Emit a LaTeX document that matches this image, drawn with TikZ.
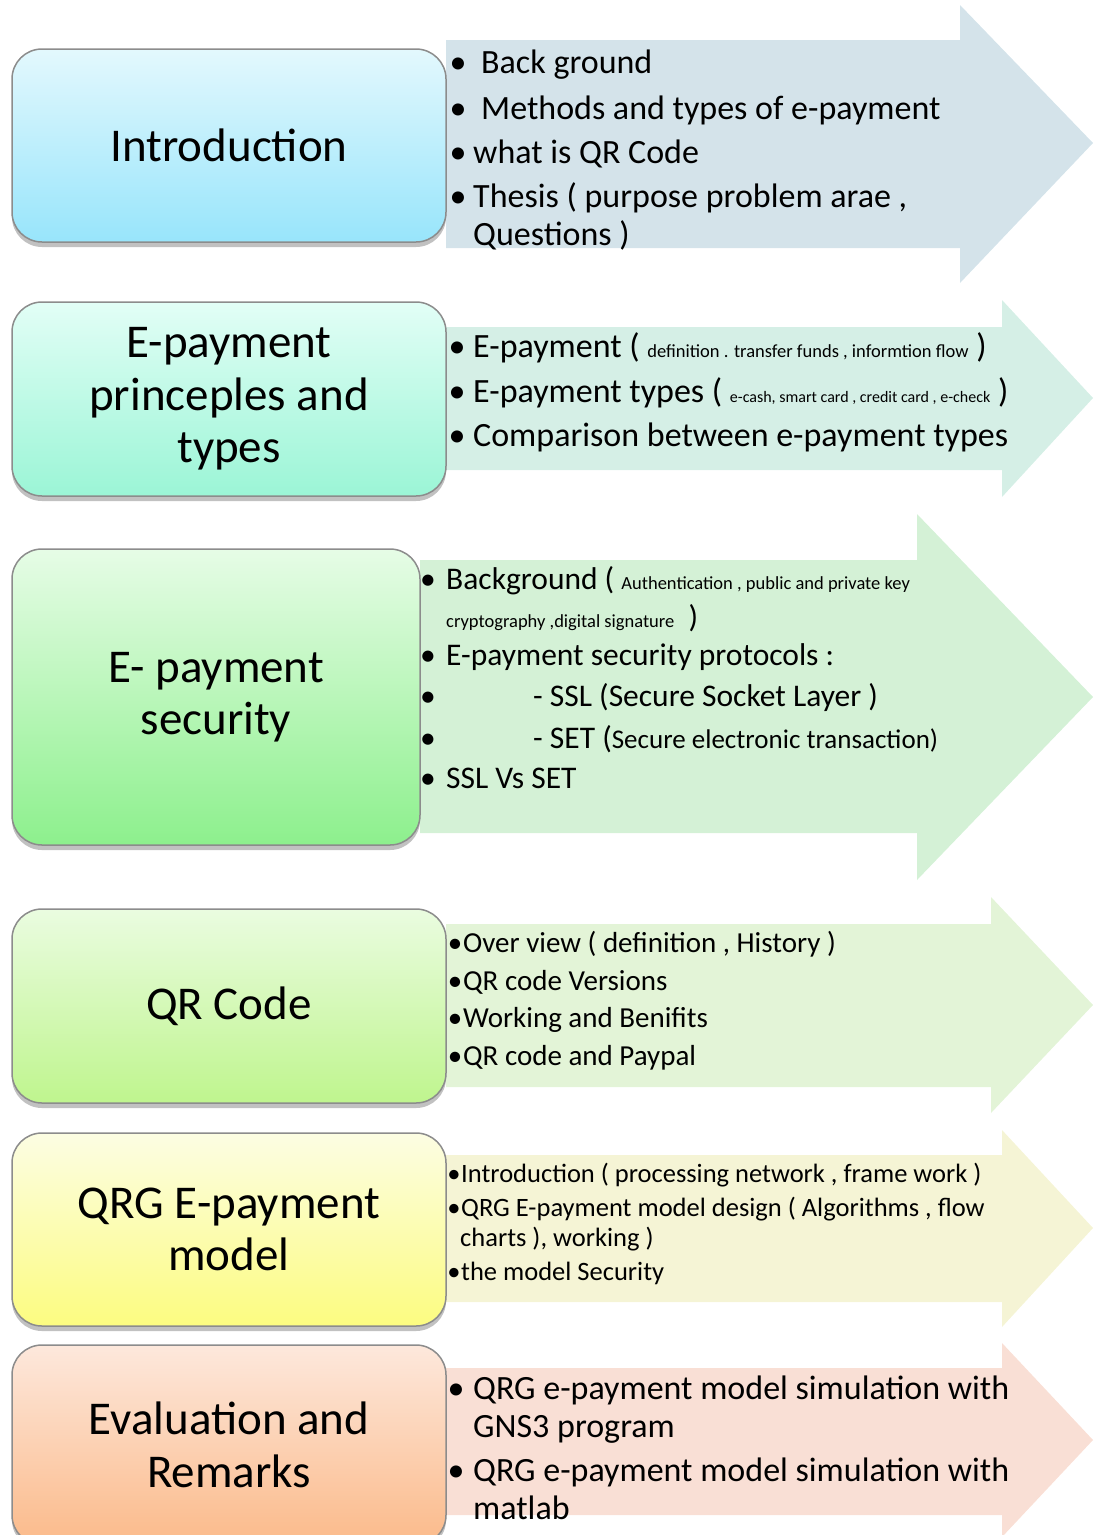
\documentclass[tikz,border=0pt]{standalone}
\usepackage{fontspec}
\setmainfont{Carlito}
\usetikzlibrary{shadows}

\definecolor{introtop}{HTML}{E3F8FD}\definecolor{introbot}{HTML}{98E5FB}\definecolor{introarr}{HTML}{D4E3EA}
\definecolor{paytop}{HTML}{E2FEF6}\definecolor{paybot}{HTML}{9BF5D6}\definecolor{payarr}{HTML}{D5EFE6}
\definecolor{sectop}{HTML}{E6FCE6}\definecolor{secbot}{HTML}{8DF08D}\definecolor{secarr}{HTML}{D4F1D6}
\definecolor{qrtop}{HTML}{EAFCE0}\definecolor{qrbot}{HTML}{BFF58E}\definecolor{qrarr}{HTML}{E3F4D7}
\definecolor{qrgtop}{HTML}{FCFDE3}\definecolor{qrgbot}{HTML}{FCFC80}\definecolor{qrgarr}{HTML}{F5F4D5}
\definecolor{evaltop}{HTML}{FDE8DC}\definecolor{evalbot}{HTML}{FBBA8A}\definecolor{evalarr}{HTML}{F9DFD5}

\newcommand\fsz[1]{\fontsize{#1}{1.18\dimexpr#1pt\relax}\selectfont}

\tikzset{
  topic/.style={draw=black!45, line width=1.5pt, rounded corners=30pt, align=center,
    inner sep=0pt, minimum width=434pt, minimum height=194pt,
    font=\fontsize{47}{52.5}\selectfont,
    drop shadow={shadow xshift=0pt, shadow yshift=-5pt, opacity=0.35, fill=black!70}},
  item/.style={anchor=mid west, inner sep=0pt, yshift=-8pt},
  dot/.style={anchor=mid, inner sep=0pt, yshift=-8pt},
}

\begin{document}
\begin{tikzpicture}[x=1pt, y=-1pt]
  \clip (0,0) rectangle (1093,1535);

  % arrows
  \fill[introarr] (446,40) -- (960,40) -- (960,5) -- (1093,143) -- (960,283) -- (960,248) -- (446,248) -- cycle;
  \fill[payarr] (446,327) -- (1002,327) -- (1002,300) -- (1093,398) -- (1002,497) -- (1002,470) -- (446,470) -- cycle;
  \fill[secarr] (420,560) -- (917,560) -- (917,514) -- (1093,697) -- (917,880) -- (917,833) -- (420,833) -- cycle;
  \fill[qrarr] (446,924) -- (991,924) -- (991,897) -- (1093,1005) -- (991,1113) -- (991,1087) -- (446,1087) -- cycle;
  \fill[qrgarr] (446,1155) -- (1002,1155) -- (1002,1130) -- (1093,1228) -- (1002,1327) -- (1002,1302) -- (446,1302) -- cycle;
  \fill[evalarr] (446,1368) -- (1002,1368) -- (1002,1343) -- (1093,1440) -- (1002,1537) -- (1002,1515) -- (446,1515) -- cycle;

  % topics
  \node[topic, top color=introtop, bottom color=introbot, minimum height=193pt] (intro) at (229,145.5) {Introduction};
  \node[topic, top color=paytop, bottom color=paybot] (pay) at (229,399) {E-payment\\princeples and\\types};
  \node[topic, top color=sectop, bottom color=secbot, minimum width=408pt, minimum height=296pt] (sec) at (216,697) {E- payment\\security};
  \node[topic, top color=qrtop, bottom color=qrbot] (qr) at (229,1006) {QR Code};
  \node[topic, top color=qrgtop, bottom color=qrgbot, minimum height=193pt] (qrg) at (229,1229.5) {QRG E-payment\\model};
  \node[topic, top color=evaltop, bottom color=evalbot, minimum height=200pt] (eval) at (229,1445) {Evaluation and\\Remarks};

  % introduction
  \foreach \y [count=\i] in {63,109,153,197}
    \node[dot, font=\fsz{34}] (introdot\i) at (458,\y) {\textbullet};
  \node[item, font=\fsz{34}] (intro1) at (481,63) {Back ground};
  \node[item, font=\fsz{34}] (intro2) at (481,109) {Methods and types of e-payment};
  \node[item, font=\fsz{34}] (intro3) at (473,153) {what is QR Code};
  \node[item, font=\fsz{34}] (intro4) at (473,197) {Thesis ( purpose problem arae ,};
  \node[item, font=\fsz{34}] (intro5) at (473,235) {Questions )};

  % e-payment principles
  \foreach \y [count=\i] in {347,392,436}
    \node[dot, font=\fsz{34}] (paydot\i) at (457,\y) {\textbullet};
  \node[item, font=\fsz{34}] (pay1) at (473,347) {E-payment ( {\fsz{18.5}definition . transfer funds , informtion flow} )};
  \node[item, font=\fsz{34}] (pay2) at (473,392) {E-payment types ( {\fsz{16}e-cash, smart card , credit card , e-check} )};
  \node[item, font=\fsz{34}] (pay3) at (473,436) {Comparison between e-payment types};

  % security
  \foreach \y [count=\i] in {579,655,696,738,778}
    \node[dot, font=\fsz{31.5}] (secdot\i) at (428,\y) {\textbullet};
  \node[item, font=\fsz{31.5}] (sec1) at (446,579) {Background ( {\fsz{18.5}Authentication , public and private key}};
  \node[item, font=\fsz{31.5}] (sec2) at (446,617) {{\fsz{18.5}cryptography ,digital signature}\ \ )};
  \node[item, font=\fsz{31.5}] (sec3) at (446,655) {E-payment security protocols :};
  \node[item, font=\fsz{31.5}] (sec4) at (533,696) {- SSL (Secure Socket Layer )};
  \node[item, font=\fsz{31.5}] (sec5) at (533,738) {- SET ({\fsz{27}Secure electronic transaction)}};
  \node[item, font=\fsz{31.5}] (sec6) at (446,778) {SSL Vs SET};

  % qr code
  \foreach \y [count=\i] in {942,980,1017,1055}
    \node[dot, font=\fsz{29}] (qrdot\i) at (455,\y) {\textbullet};
  \node[item, font=\fsz{29}] (qr1) at (463,942) {Over view ( definition , History )};
  \node[item, font=\fsz{29}] (qr2) at (463,980) {QR code Versions};
  \node[item, font=\fsz{29}] (qr3) at (463,1017) {Working and Benifits};
  \node[item, font=\fsz{29}] (qr4) at (463,1055) {QR code and Paypal};

  % qrg model
  \foreach \y [count=\i] in {1172,1206,1270}
    \node[dot, font=\fsz{26.5}] (qrgdot\i) at (454,\y) {\textbullet};
  \node[item, font=\fsz{26.5}] (qrg1) at (461,1172) {Introduction ( processing network , frame work )};
  \node[item, font=\fsz{26.5}] (qrg2) at (461,1206) {QRG E-payment model design ( Algorithms , flow};
  \node[item, font=\fsz{26.5}] (qrg3) at (460,1236) {charts ), working )};
  \node[item, font=\fsz{26.5}] (qrg4) at (461,1270) {the model Security};

  % evaluation
  \foreach \y [count=\i] in {1389,1471}
    \node[dot, font=\fsz{34}] (evaldot\i) at (456,\y) {\textbullet};
  \node[item, font=\fsz{34}] (eval1) at (473,1389) {QRG e-payment model simulation with};
  \node[item, font=\fsz{34}] (eval2) at (473,1427) {GNS3 program};
  \node[item, font=\fsz{34}] (eval3) at (473,1471) {QRG e-payment model simulation with};
  \node[item, font=\fsz{34}] (eval4) at (473,1509) {matlab};
\end{tikzpicture}
\end{document}
